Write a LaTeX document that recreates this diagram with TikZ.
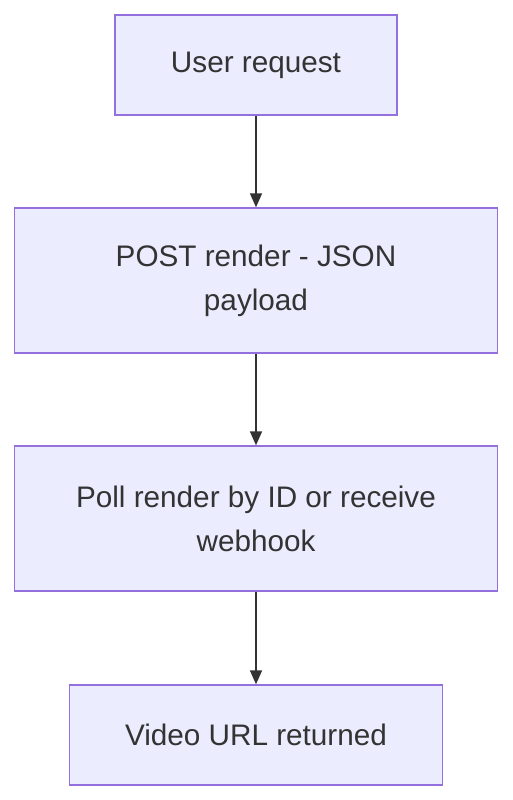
\documentclass[tikz,border=0pt]{standalone}
\usepackage{fontspec}
\setmainfont{Liberation Sans}
\usetikzlibrary{arrows.meta}
\definecolor{boxfill}{HTML}{ECECFF}
\definecolor{boxline}{HTML}{9370DB}
\definecolor{ink}{HTML}{333333}
\tikzset{
	flowbox/.style={draw=boxline, fill=boxfill, line width=1.3pt, text=ink, align=center, font=\fontsize{29.7}{44}\selectfont, inner sep=0pt},
	flowarrow/.style={draw=ink, line width=1.5pt, -{Triangle[length=14pt, width=12pt]}}
}
\begin{document}
\begin{tikzpicture}[x=1pt, y=-1pt]
	\useasboundingbox (0,0) rectangle (513,800);
	\node[flowbox, minimum width=282pt, minimum height=100pt] (request) at (256,65) {User request};
	\node[flowbox, minimum width=483pt, minimum height=145pt] (post) at (256,280.5) {POST render - JSON\\payload};
	\node[flowbox, minimum width=483pt, minimum height=145pt] (poll) at (256,518.5) {Poll render by ID or receive\\webhook};
	\node[flowbox, minimum width=373pt, minimum height=100pt] (video) at (256,735) {Video URL returned};
	\draw[flowarrow] (request) -- (post);
	\draw[flowarrow] (post) -- (poll);
	\draw[flowarrow] (poll) -- (video);
\end{tikzpicture}
\end{document}
